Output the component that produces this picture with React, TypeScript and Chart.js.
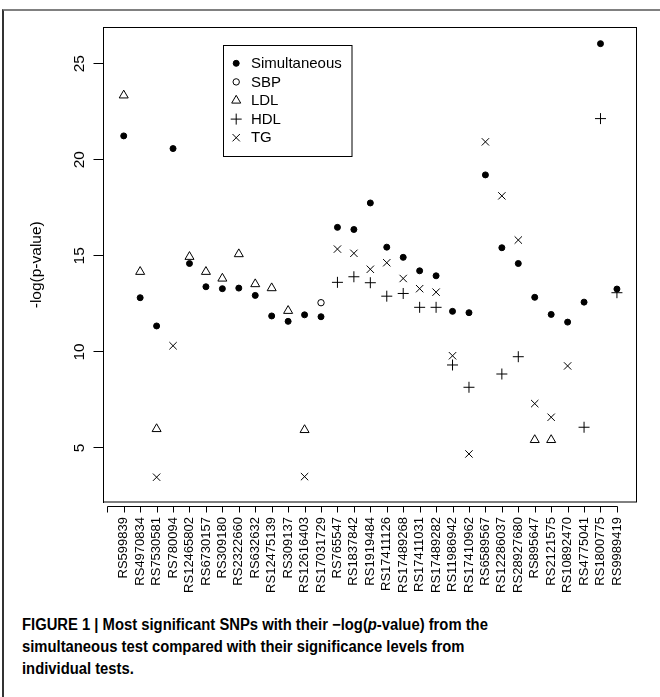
import React, { useEffect, useRef } from 'react';
import { Chart, registerables } from 'chart.js';

Chart.register(...registerables);

// ---------- data ----------
const snps = [
  'RS599839', 'RS4970834', 'RS7530581', 'RS780094', 'RS12465802', 'RS6730157', 'RS309180',
  'RS2322660', 'RS632632', 'RS12475139', 'RS309137', 'RS12616403', 'RS17031729', 'RS765547',
  'RS1837842', 'RS1919484', 'RS17411126', 'RS17489268', 'RS17411031', 'RS17489282',
  'RS11986942', 'RS17410962', 'RS6589567', 'RS12286037', 'RS28927680', 'RS895647',
  'RS2121575', 'RS10892470', 'RS4775041', 'RS1800775', 'RS9989419',
];
const xTickLabels = ['', ...snps];
const yTicks = [5, 10, 15, 20, 25];

const simultaneous = [
  21.24, 12.82, 11.35, 20.58, 14.6, 13.39, 13.29, 13.32, 12.94, 11.87, 11.59, 11.93, 11.83,
  16.48, 16.37, 17.75, 15.45, 14.92, 14.22, 13.96, 12.11, 12.04, 19.21, 15.42, 14.6, 12.84,
  11.95, 11.55, 12.59, 26.04, 13.27,
];
const sbp = [
  null, null, null, null, null, null, null, null, null, null, null, null, 12.56,
  null, null, null, null, null, null, null, null, null, null, null, null, null,
  null, null, null, null, null,
];
const ldl = [
  23.35, 14.17, 5.99, null, 14.95, 14.17, 13.82, 15.09, 13.53, 13.32, 12.14, 5.94, null,
  null, null, null, null, null, null, null, null, null, null, null, null, 5.42,
  5.42, null, null, null, null,
];
const hdl = [
  null, null, null, null, null, null, null, null, null, null, null, null, null,
  13.62, 13.91, 13.6, 12.9, 13.04, 12.32, 12.32, 9.32, 8.16, null, 8.85, 9.75, null,
  null, null, 6.08, 22.14, 13.08,
];
const tg = [
  null, null, 3.48, 10.32, null, null, null, null, null, null, null, 3.51, null,
  15.35, 15.13, 14.3, 14.64, 13.82, 13.29, 13.11, 9.8, 4.69, 20.93, 18.12, 15.82, 7.31,
  6.6, 9.27, null, null, null,
];

const toPoints = (arr: (number | null)[]) =>
  arr
    .map((v, i) => (v == null ? null : { x: i + 1, y: v }))
    .filter((p) => p !== null) as { x: number; y: number }[];

const FONT = '"Liberation Sans", Arial, Helvetica, sans-serif';

const W = 660;
const H = 605;
const AREA = { left: 103.5, top: 27.5, right: 636.5, bottom: 502 };

const frameAndLegend = {
  id: 'frameAndLegend',
  afterDraw(chart: any) {
    const { ctx, chartArea: a } = chart;
    const x = chart.scales.x;
    ctx.save();
    ctx.strokeStyle = '#000';
    ctx.lineWidth = 1;
    // plot box
    ctx.strokeRect(a.left, a.top, a.right - a.left, a.bottom - a.top);
    // x axis line + ticks (R style, slightly detached from box)
    const y0 = Math.round(a.bottom + 4) + 0.5;
    const ticks = x.ticks;
    ctx.beginPath();
    ctx.moveTo(Math.round(x.getPixelForValue(ticks[0].value)) + 0.5, y0);
    ctx.lineTo(Math.round(x.getPixelForValue(ticks[ticks.length - 1].value)) + 0.5, y0);
    ticks.forEach((t: any) => {
      const px = Math.round(x.getPixelForValue(t.value)) + 0.5;
      ctx.moveTo(px, y0);
      ctx.lineTo(px, y0 + 6);
    });
    ctx.stroke();

    // legend
    const lx = a.left + 119;
    const ly = a.top + 17.5;
    const lw = 128.5;
    const lh = 111;
    ctx.fillStyle = '#fff';
    ctx.fillRect(Math.round(lx) + 0.5, Math.round(ly) + 0.5, lw, lh);
    ctx.strokeRect(Math.round(lx) + 0.5, Math.round(ly) + 0.5, lw, lh);
    ctx.font = `15px ${FONT}`;
    ctx.textBaseline = 'middle';
    ctx.textAlign = 'left';
    chart.data.datasets.forEach((ds: any, i: number) => {
      const ry = ly + 18.3 + i * 18.6;
      const sx = lx + 13.7;
      ctx.fillStyle = '#000';
      ctx.fillText(ds.label, lx + 28.4, ry + 0.5);
      const r = ds.pointRadius;
      ctx.beginPath();
      ctx.lineWidth = ds.borderWidth;
      ctx.strokeStyle = '#000';
      const style = ds.pointStyle;
      if (style === 'circle') {
        ctx.arc(sx, ry, r, 0, Math.PI * 2);
        if (ds.backgroundColor !== 'transparent') {
          ctx.fillStyle = ds.backgroundColor;
          ctx.fill();
        }
        ctx.stroke();
      } else if (style === 'triangle') {
        for (let k = 0; k < 3; k++) {
          const ang = (k * 2 * Math.PI) / 3;
          const px = sx + Math.sin(ang) * r;
          const py = ry - Math.cos(ang) * r;
          if (k === 0) ctx.moveTo(px, py);
          else ctx.lineTo(px, py);
        }
        ctx.closePath();
        ctx.stroke();
      } else if (style === 'cross') {
        ctx.moveTo(sx - r, ry);
        ctx.lineTo(sx + r, ry);
        ctx.moveTo(sx, ry - r);
        ctx.lineTo(sx, ry + r);
        ctx.stroke();
      } else if (style === 'crossRot') {
        const d = r * Math.SQRT1_2;
        ctx.moveTo(sx - d, ry - d);
        ctx.lineTo(sx + d, ry + d);
        ctx.moveTo(sx - d, ry + d);
        ctx.lineTo(sx + d, ry - d);
        ctx.stroke();
      }
    });
    ctx.restore();
  },
};

export default function App() {
  const ref = useRef<HTMLCanvasElement | null>(null);

  useEffect(() => {
    if (!ref.current) return;
    const common = { showLine: false, borderColor: '#000', pointHoverRadius: 0 };
    const chart = new Chart(ref.current, {
      type: 'scatter',
      data: {
        datasets: [
          {
            ...common,
            label: 'Simultaneous',
            data: toPoints(simultaneous),
            pointStyle: 'circle',
            pointRadius: 3,
            borderWidth: 1,
            backgroundColor: '#000',
            pointBackgroundColor: '#000',
          },
          {
            ...common,
            label: 'SBP',
            data: toPoints(sbp),
            pointStyle: 'circle',
            pointRadius: 3.2,
            borderWidth: 1,
            backgroundColor: 'transparent',
            pointBackgroundColor: 'transparent',
          },
          {
            ...common,
            label: 'LDL',
            data: toPoints(ldl),
            pointStyle: 'triangle',
            pointRadius: 5.2,
            borderWidth: 1,
            backgroundColor: 'transparent',
            pointBackgroundColor: 'transparent',
          },
          {
            ...common,
            label: 'HDL',
            data: toPoints(hdl),
            pointStyle: 'cross',
            pointRadius: 5.5,
            borderWidth: 1,
            backgroundColor: 'transparent',
          },
          {
            ...common,
            label: 'TG',
            data: toPoints(tg),
            pointStyle: 'crossRot',
            pointRadius: 5.2,
            borderWidth: 1,
            backgroundColor: 'transparent',
          },
        ] as any,
      },
      options: {
        responsive: false,
        animation: false,
        devicePixelRatio: 1,
        layout: {
          padding: { left: 0, top: AREA.top, right: W - AREA.right, bottom: 0 },
        },
        plugins: {
          legend: { display: false },
          tooltip: { enabled: false },
        },
        events: [],
        scales: {
          x: {
            type: 'linear',
            min: -0.23,
            max: 32.19,
            afterBuildTicks: (s: any) => {
              s.ticks = xTickLabels.map((_, i) => ({ value: i }));
            },
            afterFit: (s: any) => {
              s.height = H - AREA.bottom;
            },
            grid: { display: false, drawTicks: false },
            border: { display: false },
            ticks: {
              autoSkip: false,
              minRotation: 90,
              maxRotation: 90,
              padding: 15,
              color: '#000',
              font: { family: FONT, size: 13 },
              callback: (v: any) => xTickLabels[Math.round(Number(v))] ?? '',
            },
          },
          y: {
            type: 'linear',
            min: 2.19,
            max: 26.88,
            afterBuildTicks: (s: any) => {
              s.ticks = yTicks.map((v) => ({ value: v }));
            },
            afterFit: (s: any) => {
              s.width = AREA.left;
            },
            grid: {
              display: true,
              drawOnChartArea: false,
              drawTicks: true,
              tickLength: 10,
              color: '#000',
              lineWidth: 1,
            },
            border: { display: true, color: '#000', width: 1 },
            ticks: {
              minRotation: 90,
              maxRotation: 90,
              crossAlign: 'center',
              padding: 5,
              color: '#000',
              font: { family: FONT, size: 15.5 },
              callback: (v: any) => String(v),
            },
            title: {
              display: true,
              text: '-log(p-value)',
              color: '#000',
              font: { family: FONT, size: 15.5 },
              padding: { top: 27.4, bottom: 0 },
            },
          },
        },
      },
      plugins: [frameAndLegend],
    });
    return () => chart.destroy();
  }, []);

  return (
    <div
      style={{
        position: 'absolute',
        left: 0,
        top: 0,
        width: W,
        height: 697,
        overflow: 'hidden',
        background: '#fff',
      }}
    >
      <div
        style={{
          position: 'absolute',
          left: 2,
          top: 8.5,
          width: 700,
          height: 700,
          borderTop: '2px solid #808080',
          borderLeft: '2px solid #333',
          boxSizing: 'border-box',
        }}
      />
      <canvas
        ref={ref}
        width={W}
        height={H}
        style={{ position: 'absolute', left: 0, top: 0, width: W, height: H }}
      />
      <div
        style={{
          position: 'absolute',
          left: 21.5,
          top: 614,
          fontFamily: '"Liberation Sans", Arial, sans-serif',
          fontWeight: 'bold',
          fontSize: 16,
          lineHeight: '22px',
          whiteSpace: 'nowrap',
          color: '#000',
          transform: 'scaleX(0.925)',
          transformOrigin: '0 0',
        }}
      >
        FIGURE 1 | Most significant SNPs with their −log(<i>p</i>-value) from the
        <br />
        simultaneous test compared with their significance levels from
        <br />
        individual tests.
      </div>
    </div>
  );
}
